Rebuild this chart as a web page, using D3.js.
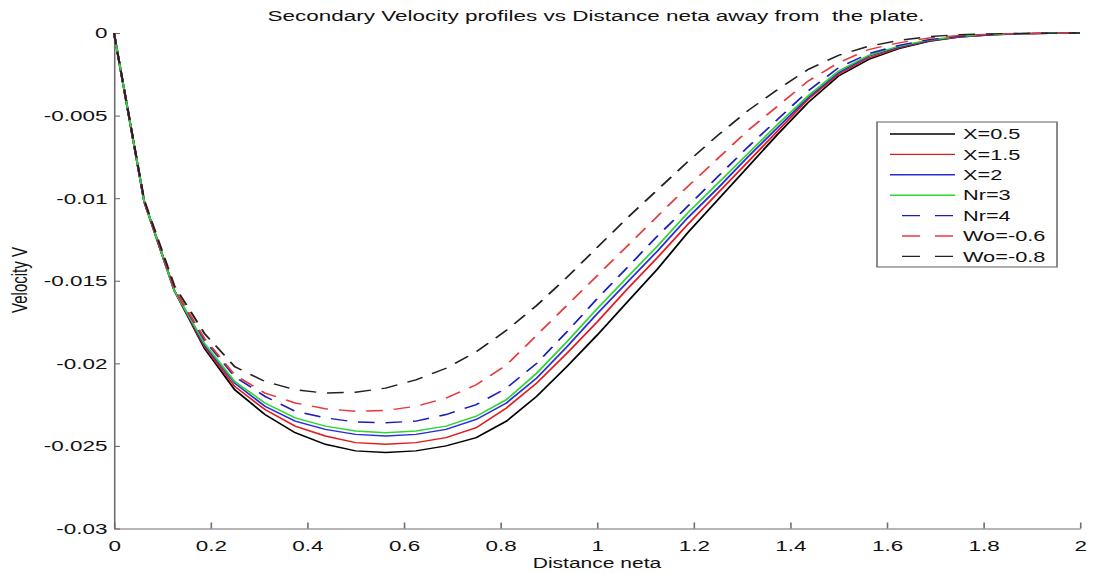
<!DOCTYPE html>
<html>
<head>
<meta charset="utf-8">
<script src="https://cdn.jsdelivr.net/npm/d3@7"></script>
<style>
  body { margin: 0; background: #fff; }
  text { font-family: "Liberation Sans", Arial, sans-serif; fill: #111; }
</style>
</head>
<body>
<div id="chart"></div>
<script>
// distance neta (grid of the solver)
var xs = [0, 0.0625, 0.125, 0.1875, 0.25, 0.3125, 0.375, 0.4375, 0.5, 0.5625, 0.625, 0.6875,
  0.75, 0.8125, 0.875, 0.9375, 1.0, 1.0625, 1.125, 1.1875, 1.25, 1.3125, 1.375, 1.4375,
  1.5, 1.5625, 1.625, 1.6875, 1.75, 1.8125, 1.875, 1.9375, 2.0];

// secondary velocity for each case
var vX05 = [0, -0.0102, -0.0156, -0.0191, -0.0216, -0.0231, -0.0242, -0.0249, -0.0253, -0.0254, -0.0253, -0.0250,
  -0.0245, -0.0235, -0.0220, -0.0202, -0.0183, -0.0163, -0.0143, -0.0121, -0.0101, -0.0081, -0.0061, -0.0042,
  -0.0026, -0.0016, -0.00095, -0.0005, -0.00025, -0.00012, -0.00005, -0.00002, 0];
var vX15 = [0, -0.0102, -0.0156, -0.0190, -0.0214, -0.0228, -0.0238, -0.0244, -0.0248, -0.0249, -0.0248, -0.0245,
  -0.0239, -0.0227, -0.0212, -0.0194, -0.0175, -0.0155, -0.0136, -0.0116, -0.0097, -0.0078, -0.0059, -0.0040,
  -0.0025, -0.0015, -0.0009, -0.00048, -0.00024, -0.00011, -0.00005, -0.00002, 0];
var vX2 = [0, -0.0102, -0.0156, -0.0189, -0.0212, -0.0226, -0.0235, -0.0240, -0.0243, -0.0244, -0.0243, -0.0240,
  -0.0234, -0.0224, -0.0209, -0.0190, -0.0170, -0.0151, -0.0132, -0.0112, -0.0094, -0.0075, -0.0057, -0.0039,
  -0.0024, -0.0014, -0.00085, -0.00045, -0.00022, -0.0001, -0.00004, -0.00001, 0];
var vNr3 = [0, -0.0102, -0.0156, -0.0188, -0.0211, -0.0224, -0.0233, -0.0238, -0.0241, -0.0242, -0.0241, -0.0238,
  -0.0232, -0.0222, -0.0206, -0.0187, -0.0167, -0.0148, -0.0129, -0.0109, -0.0091, -0.0073, -0.0055, -0.0038,
  -0.0023, -0.00135, -0.0008, -0.00042, -0.0002, -0.00009, -0.00004, -0.00001, 0];
var vNr4 = [0, -0.0102, -0.0155, -0.0186, -0.0208, -0.0220, -0.0229, -0.0233, -0.02355, -0.0236, -0.0235, -0.0231,
  -0.0225, -0.0215, -0.0200, -0.0181, -0.0161, -0.0142, -0.0123, -0.0105, -0.0087, -0.0069, -0.0052, -0.0035,
  -0.0021, -0.00125, -0.00075, -0.0004, -0.0002, -0.00009, -0.00004, -0.00001, 0];
var vWo06 = [0, -0.0102, -0.0155, -0.0185, -0.0207, -0.0218, -0.0224, -0.02275, -0.0229, -0.02285, -0.0226, -0.0221,
  -0.0213, -0.0201, -0.0183, -0.0165, -0.0147, -0.0129, -0.0111, -0.0093, -0.0076, -0.0059, -0.0044, -0.0029,
  -0.0018, -0.001, -0.0006, -0.0003, -0.00015, -0.00007, -0.00003, -0.00001, 0];
var vWo08 = [0, -0.0101, -0.0153, -0.0182, -0.0202, -0.0211, -0.0216, -0.0218, -0.02175, -0.0215, -0.0210, -0.0203,
  -0.0193, -0.0180, -0.0165, -0.0148, -0.0130, -0.0112, -0.0095, -0.0078, -0.0062, -0.0047, -0.0034, -0.0022,
  -0.00135, -0.0008, -0.00045, -0.00022, -0.0001, -0.00005, -0.00002, -0.00001, 0];

var seriesNames = ["X=0.5", "X=1.5", "X=2", "Nr=3", "Nr=4", "Wo=-0.6", "Wo=-0.8"];
var seriesValues = [vX05, vX15, vX2, vNr3, vNr4, vWo06, vWo08];
var seriesColors = ["#000000", "#e41a1c", "#2b2bdc", "#2fd62f", "#1c1cb8", "#e8383a", "#222222"];
var seriesDashed = [false, false, false, false, true, true, true];

var xTicks = [0, 0.2, 0.4, 0.6, 0.8, 1, 1.2, 1.4, 1.6, 1.8, 2];
var xTickLabels = ["0", "0.2", "0.4", "0.6", "0.8", "1", "1.2", "1.4", "1.6", "1.8", "2"];
var yTicks = [0, -0.005, -0.01, -0.015, -0.02, -0.025, -0.03];
var yTickLabels = ["0", "-0.005", "-0.01", "-0.015", "-0.02", "-0.025", "-0.03"];

// the reference picture is stretched sideways, so draw in a narrower box and stretch it
var SX = 1.45;
var W = 1097, H = 574;
var VW = W / SX;
function px(v) { return v / SX; }

var svg = d3.select("#chart")
  .append("svg")
    .attr("width", W)
    .attr("height", H)
    .attr("viewBox", "0 0 " + VW + " " + H)
    .attr("preserveAspectRatio", "none");

var x = d3.scaleLinear().domain([0, 2]).range([px(114), px(1080)]);
var y = d3.scaleLinear().domain([-0.03, 0]).range([528.5, 33]);

// axes, ticks pointing inward like matlab
svg.append("g")
  .attr("transform", "translate(0," + y(-0.03) + ")")
  .call(d3.axisBottom(x).tickValues(xTicks)
    .tickFormat(function(d, i) { return xTickLabels[i]; })
    .tickSizeInner(-6).tickSizeOuter(0).tickPadding(11));

svg.append("g")
  .attr("transform", "translate(" + x(0) + ",0)")
  .call(d3.axisLeft(y).tickValues(yTicks)
    .tickFormat(function(d, i) { return yTickLabels[i]; })
    .tickSizeInner(-4.2).tickSizeOuter(0).tickPadding(4.5));

svg.selectAll(".domain, .tick line").attr("stroke", "#6e6e6e").attr("stroke-width", 1.1);
svg.selectAll(".tick text").attr("font-size", 15.5).attr("fill", "#111")
  .style("font-family", "'Liberation Sans', Arial, sans-serif");

// curves
var line = d3.line()
  .x(function(d) { return x(d[0]); })
  .y(function(d) { return y(d[1]); });

seriesValues.forEach(function(vals, i) {
  var pts = xs.map(function(xv, j) { return [xv, vals[j]]; });
  svg.append("path")
    .datum(pts)
    .attr("fill", "none")
    .attr("stroke", seriesColors[i])
    .attr("stroke-width", 1.4)
    .attr("stroke-dasharray", seriesDashed[i] ? "11.5,7.5" : null)
    .attr("d", line);
});

// title and axis labels
svg.append("text")
  .attr("x", px(596))
  .attr("y", 21.5)
  .attr("text-anchor", "middle")
  .attr("font-size", 15.5)
  .text("Secondary Velocity profiles vs Distance neta away from\u00a0 the plate.");

svg.append("text")
  .attr("x", px(597))
  .attr("y", 568)
  .attr("text-anchor", "middle")
  .attr("font-size", 14.5)
  .text("Distance neta");

svg.append("text")
  .attr("transform", "translate(" + px(27) + ",280) rotate(-90)")
  .attr("text-anchor", "middle")
  .attr("font-size", 15)
  .text("Velocity V");

// legend
var legend = svg.append("g");
legend.append("rect")
  .attr("x", px(877))
  .attr("y", 122)
  .attr("width", px(1057 - 877))
  .attr("height", 267 - 122)
  .attr("fill", "#fff")
  .attr("stroke", "#6e6e6e")
  .attr("stroke-width", 1.1);

seriesNames.forEach(function(name, i) {
  var ry = 134 + i * 20.4;
  legend.append("line")
    .attr("x1", seriesDashed[i] ? px(902) : px(890))
    .attr("x2", px(955))
    .attr("y1", ry)
    .attr("y2", ry)
    .attr("stroke", seriesColors[i])
    .attr("stroke-width", 1.4)
    .attr("stroke-dasharray", seriesDashed[i] ? (px(18) + "," + px(15)) : null);
  legend.append("text")
    .attr("x", px(963))
    .attr("y", ry)
    .attr("dy", "0.35em")
    .attr("font-size", 15)
    .text(name);
});
</script>
</body>
</html>
